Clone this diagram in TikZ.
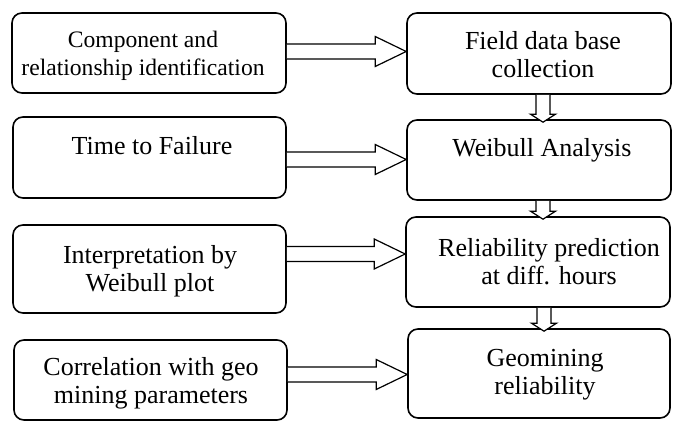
\documentclass[tikz,border=0pt]{standalone}
\usepackage{fontspec}
\setmainfont{Liberation Serif}
\usetikzlibrary{calc}
\tikzset{
  box/.style={draw, line width=1.6pt, rounded corners=10pt, inner sep=0pt},
  txt/.style={align=center, anchor=base, inner sep=0pt, font=\fontsize{26}{28.5}\selectfont},
  smalltxt/.style={txt, font=\fontsize{23.6}{27.5}\selectfont},
  blockarr/.style={draw, fill=white, line width=1.2pt, line join=miter},
}
\newcommand\harr[3]{\draw[blockarr] let \p1=(#1.east), \p2=(#2.west) in
  (\x1,#3pt+7.5pt) -- (\x2-31pt,#3pt+7.5pt) -- (\x2-31pt,#3pt+15pt) -- (\x2,#3pt)
  -- (\x2-31pt,#3pt-15pt) -- (\x2-31pt,#3pt-7.5pt) -- (\x1,#3pt-7.5pt);}
\newcommand\varr[3]{\draw[blockarr] let \p1=(#1.south), \p2=(#2.north) in
  (#3pt-7pt,\y1) -- (#3pt-7pt,\y2+5pt) -- (#3pt-12.5pt,\y2+5pt) -- (#3pt,\y2-3pt)
  -- (#3pt+12.5pt,\y2+5pt) -- (#3pt+7pt,\y2+5pt) -- (#3pt+7pt,\y1);}
\begin{document}
\begin{tikzpicture}[x=1pt,y=1pt]
\useasboundingbox (0,0) rectangle (673,423);
% left column
\node[box, minimum width=274pt, minimum height=80pt] (l1) at (149,370) {};
\node[box, minimum width=273pt, minimum height=81pt] (l2) at (149.5,265.5) {};
\node[box, minimum width=273pt, minimum height=88pt] (l3) at (149.5,154) {};
\node[box, minimum width=273pt, minimum height=80pt] (l4) at (150.5,43) {};
% right column
\node[box, minimum width=264pt, minimum height=81pt] (r1) at (539,369.5) {};
\node[box, minimum width=264pt, minimum height=80pt] (r2) at (539,263) {};
\node[box, minimum width=264pt, minimum height=90pt] (r3) at (538,161) {};
\node[box, minimum width=262pt, minimum height=89pt] (r4) at (539,49.5) {};
% texts (base anchor = baseline of the last line)
\node[smalltxt] (t1) at (143,347.5) {Component and\\relationship identification};
\node[txt] (t2) at (152,268) {Time to Failure};
\node[txt] (t3) at (150,131) {Interpretation by\\Weibull plot};
\node[txt] (t4) at (151,19) {Correlation with geo\\mining parameters};
\begin{scope}
\clip (400,343) rectangle (680,423);
\node[txt] (u1) at (543,345) {Field data base\\collection};
\end{scope}
\node[txt] (u2) at (542,266) {Weibull Analysis};
\node[txt] (u3) at (549,138) {Reliability prediction\\at diff. hours};
\node[txt] (u4) at (545,28) {Geomining\\reliability};
% connectors
\harr{l1}{r1}{371.5}
\harr{l2}{r2}{263.5}
\harr{l3}{r3}{169}
\harr{l4}{r4}{48.5}
\varr{r1}{r2}{543}
\varr{r2}{r3}{543}
\varr{r3}{r4}{544}
\end{tikzpicture}
\end{document}
